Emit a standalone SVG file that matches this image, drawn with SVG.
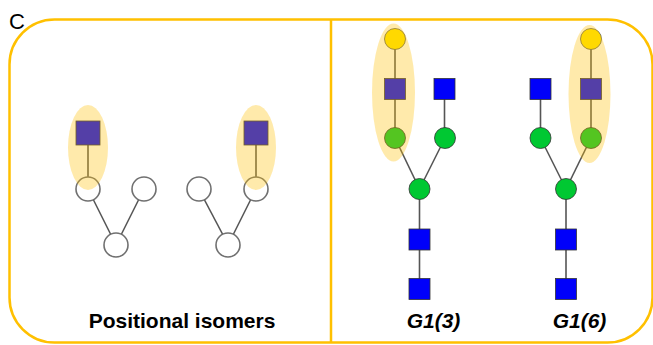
<svg xmlns="http://www.w3.org/2000/svg" width="653" height="345" viewBox="0 0 653 345">
  <defs>
    <style>
      .frame { fill: none; stroke: #FFC000; stroke-width: 2.5; }
      .link { stroke: #555555; stroke-width: 1.6; fill: none; }
      .open { fill: #ffffff; stroke: #707070; stroke-width: 1.6; }
      .glcnac { fill: #0000FA; stroke: #333333; stroke-width: 0.8; }
      .man { fill: #00C832; stroke: #333333; stroke-width: 0.8; }
      .gal { fill: #FFE600; stroke: #555555; stroke-width: 0.8; }
      .hl { fill: #FFC000; fill-opacity: 0.33; stroke: none; }
      .panel { font-family: "Liberation Sans", Arial, sans-serif; font-size: 22px; fill: #000000; }
      .caption { font-family: "Liberation Sans", Arial, sans-serif; font-size: 21px; font-weight: bold; fill: #000000; text-anchor: middle; }
      .name { font-style: italic; }
    </style>
  </defs>

  <!-- panel frame and divider -->
  <rect class="frame" x="9.5" y="19.5" width="643" height="323" rx="45" ry="45"/>
  <line class="frame" x1="331" y1="20" x2="331" y2="343" stroke-width="2"/>
  <text class="panel" x="9" y="29">C</text>

  <!-- connectors -->
  <g id="connectors">
    <!-- positional isomer, left -->
    <line class="link" x1="88" y1="145" x2="88" y2="177"/>
    <line class="link" x1="93" y1="199" x2="111" y2="235"/>
    <line class="link" x1="139" y1="199" x2="121" y2="235"/>
    <!-- positional isomer, right -->
    <line class="link" x1="256" y1="145" x2="256" y2="177"/>
    <line class="link" x1="204" y1="199" x2="223" y2="235"/>
    <line class="link" x1="251" y1="199" x2="233" y2="235"/>
    <!-- G1(3) -->
    <line class="link" x1="395" y1="39" x2="395" y2="138"/>
    <line class="link" x1="444.5" y1="89" x2="444.5" y2="138"/>
    <line class="link" x1="395" y1="138" x2="419.5" y2="189"/>
    <line class="link" x1="445" y1="138" x2="419.5" y2="189"/>
    <line class="link" x1="419.5" y1="189" x2="419.5" y2="289"/>
    <!-- G1(6) -->
    <line class="link" x1="591" y1="39" x2="591" y2="138"/>
    <line class="link" x1="540.5" y1="89" x2="540.5" y2="138"/>
    <line class="link" x1="540.5" y1="138" x2="566" y2="189"/>
    <line class="link" x1="591" y1="138" x2="566" y2="189"/>
    <line class="link" x1="566" y1="189" x2="566" y2="289"/>
  </g>

  <!-- positional isomer, left -->
  <g id="iso-left">
    <rect id="iso-left-sq" class="glcnac" x="76" y="121" width="24" height="24"/>
    <circle id="iso-left-a" class="open" cx="88" cy="189" r="12"/>
    <circle id="iso-left-b" class="open" cx="144" cy="189" r="12"/>
    <circle id="iso-left-root" class="open" cx="116" cy="245" r="12"/>
  </g>

  <!-- positional isomer, right -->
  <g id="iso-right">
    <rect id="iso-right-sq" class="glcnac" x="244" y="121" width="24" height="24"/>
    <circle id="iso-right-a" class="open" cx="199" cy="189" r="12"/>
    <circle id="iso-right-b" class="open" cx="256" cy="189" r="12"/>
    <circle id="iso-right-root" class="open" cx="228" cy="245" r="12"/>
  </g>

  <!-- G1(3) glycan -->
  <g id="g13">
    <circle id="g13-gal" class="gal" cx="395" cy="39" r="10.5"/>
    <rect id="g13-gn-a" class="glcnac" x="384.5" y="78.5" width="21" height="21"/>
    <rect id="g13-gn-b" class="glcnac" x="434" y="78.5" width="21" height="21"/>
    <circle id="g13-man-a" class="man" cx="395" cy="138" r="10.5"/>
    <circle id="g13-man-b" class="man" cx="445" cy="138" r="10.5"/>
    <circle id="g13-man-core" class="man" cx="419.5" cy="189" r="10.5"/>
    <rect id="g13-gn-core1" class="glcnac" x="409" y="229" width="21" height="21"/>
    <rect id="g13-gn-core2" class="glcnac" x="409" y="278.5" width="21" height="21"/>
  </g>

  <!-- G1(6) glycan -->
  <g id="g16">
    <circle id="g16-gal" class="gal" cx="591" cy="39" r="10.5"/>
    <rect id="g16-gn-a" class="glcnac" x="530" y="78.5" width="21" height="21"/>
    <rect id="g16-gn-b" class="glcnac" x="580.5" y="78.5" width="21" height="21"/>
    <circle id="g16-man-a" class="man" cx="540.5" cy="138" r="10.5"/>
    <circle id="g16-man-b" class="man" cx="591" cy="138" r="10.5"/>
    <circle id="g16-man-core" class="man" cx="566" cy="189" r="10.5"/>
    <rect id="g16-gn-core1" class="glcnac" x="555.5" y="229" width="21" height="21"/>
    <rect id="g16-gn-core2" class="glcnac" x="555.5" y="278.5" width="21" height="21"/>
  </g>

  <!-- translucent highlights over the variable branch -->
  <g id="highlights">
    <ellipse class="hl" cx="88" cy="147.5" rx="20" ry="42.5"/>
    <ellipse class="hl" cx="256" cy="147.5" rx="20" ry="42.5"/>
    <ellipse class="hl" cx="393.5" cy="92.5" rx="21.5" ry="69"/>
    <ellipse class="hl" cx="589.5" cy="94" rx="21" ry="69"/>
  </g>

  <!-- captions -->
  <text class="caption" x="182" y="328">Positional isomers</text>
  <text class="caption name" x="433.5" y="328">G1(3)</text>
  <text class="caption name" x="579.5" y="328">G1(6)</text>
</svg>
